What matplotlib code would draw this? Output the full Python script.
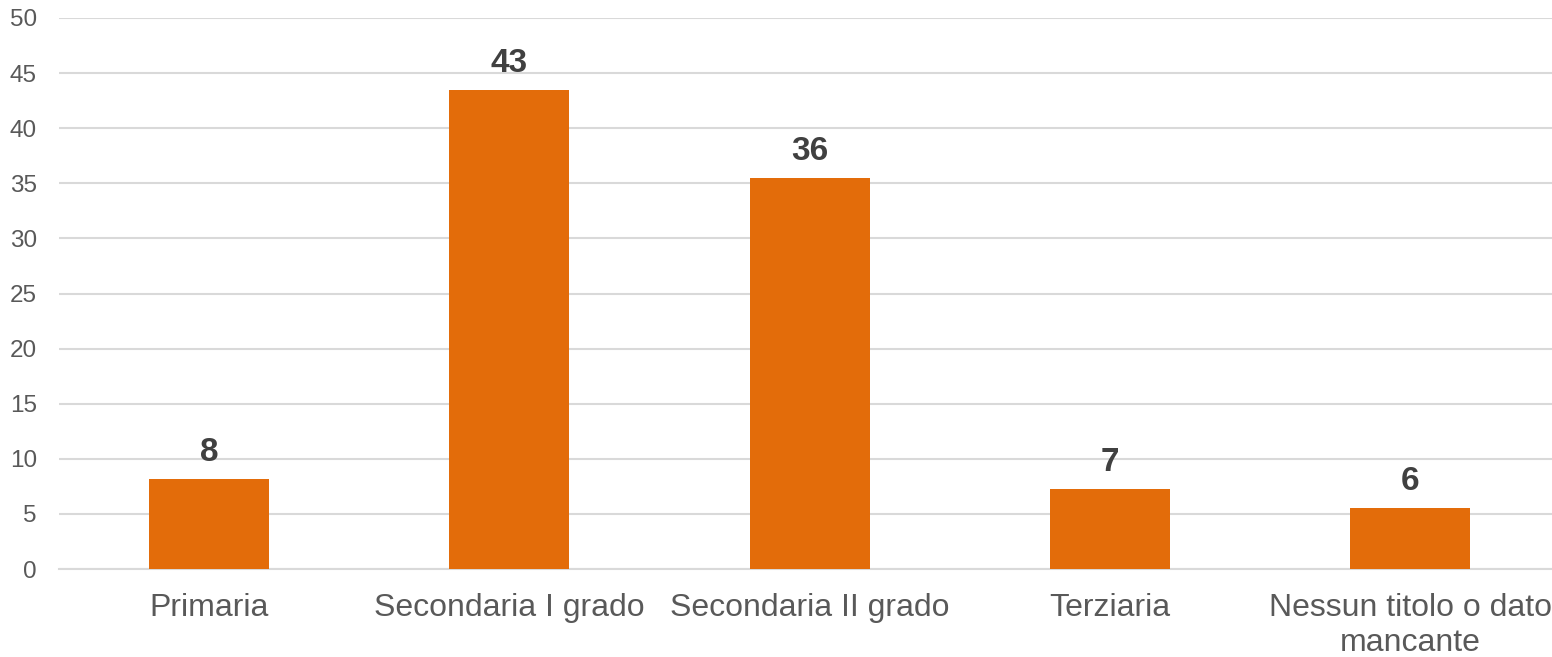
import matplotlib
matplotlib.use("Agg")
import matplotlib.pyplot as plt
import numpy as np

categories = ["Primaria", "Secondaria I grado", "Secondaria II grado", "Terziaria",
              "Nessun titolo o dato\nmancante"]
values = [8.2, 43.5, 35.5, 7.25, 5.55]
labels = ["8", "43", "36", "7", "6"]

plt.rcParams["font.family"] = ["Liberation Sans", "DejaVu Sans"]

W, H = 1552, 657
fig = plt.figure(figsize=(W / 100, H / 100), dpi=100)
ax = fig.add_axes([59 / W, (H - 569) / H, (W - 59) / W, (569 - 18) / H])

x = np.arange(len(categories))
ax.bar(x, values, width=0.4, color="#E36C0A", zorder=3)

for xi, v, lab in zip(x, values, labels):
    ax.annotate(lab, (xi, v), xytext=(0, 13), textcoords="offset points",
                ha="center", va="baseline", fontsize=24, fontweight="bold", color="#404040")

ax.set_xlim(-0.5, (W - 59) / 300.25 - 0.5)
ax.set_ylim(0, 50)
ax.set_yticks(range(0, 51, 5))
ax.yaxis.grid(True, color="#D9D9D9", linewidth=1.5, zorder=0)
ax.set_axisbelow(True)

ax.set_xticks(x)
ax.set_xticklabels(categories, fontsize=23, color="#595959", linespacing=1.22)
ax.tick_params(axis="x", length=0, pad=17)
ax.tick_params(axis="y", length=0, pad=16, labelsize=17.5, labelcolor="#595959")

for s in ["top", "right", "left"]:
    ax.spines[s].set_visible(False)
ax.spines["bottom"].set_color("#D9D9D9")
ax.spines["bottom"].set_linewidth(1.5)

fig.savefig("out.png", dpi=100)
